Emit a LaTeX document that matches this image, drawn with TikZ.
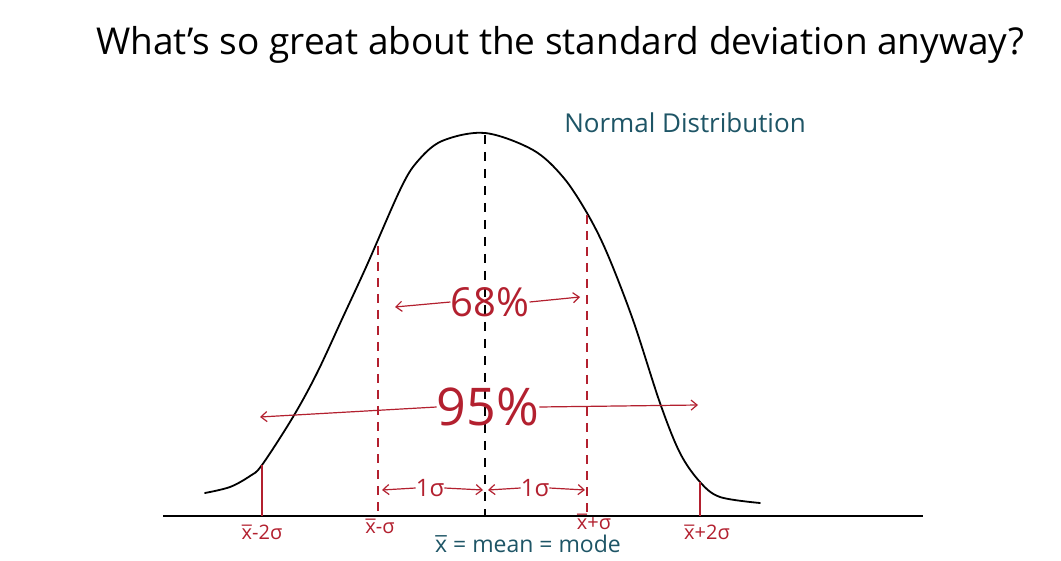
\documentclass[tikz,border=0pt]{standalone}
\usepackage{fontspec}
\setmainfont{Open Sans}
\usetikzlibrary{arrows.meta}
\definecolor{pen}{HTML}{B3202F}
\definecolor{tl}{HTML}{1E5566}
\newcommand{\xbr}{\ooalign{x\cr\hidewidth\raisebox{-0.08em}{¯}\hidewidth\cr}}
\begin{document}
\begin{tikzpicture}[x=1pt,y=-1pt,
  curve/.style={black,line width=1.8pt,line cap=round},
  rline/.style={pen,line width=1.2pt},
  rdash/.style={pen,line width=1.2pt,dash pattern=on 9pt off 7pt},
  ar/.style={-{Straight Barb[length=6pt,width=10pt]},pen,line width=1.2pt},
  lbl/.style={text=pen,inner sep=0pt},
  ttl/.style={inner sep=0pt,font=\fontsize{37}{42}\selectfont}]
\useasboundingbox[fill=white] (0,0) rectangle (1061,561);
% title
\node[ttl] (title) at (560,45) {What's so great about the standard deviation anyway?};
\node[text=tl,font=\fontsize{26}{30}\selectfont] (nd) at (685,123) {Normal Distribution};
% axis and bell curve
\coordinate (ax1) at (163,516);
\coordinate (ax2) at (923,516);
\draw[black,line width=1.5pt] (ax1) -- (ax2);
\draw[curve] plot[smooth,tension=0.55] coordinates {(205,493) (230,487) (250,476)
  (262,465) (293,417) (317,373) (343,317) (367,265) (400,190) (417,162)
  (442,141) (485,133) (533,150) (563,177) (587,213) (607,253)
  (633,320) (660,403) (680,453) (700,482) (720,497) (760,503)};
% verticals
\coordinate (mtop) at (485,135);
\coordinate (mbot) at (485,516);
\draw[black,line width=1.5pt,dash pattern=on 9pt off 8pt] (mtop) -- (mbot);
\coordinate (l1t) at (378,246); \coordinate (l1b) at (378,516);
\coordinate (r1t) at (587,215); \coordinate (r1b) at (587,516);
\coordinate (l2t) at (262,465); \coordinate (l2b) at (262,516);
\coordinate (r2t) at (700,482); \coordinate (r2b) at (700,516);
\draw[rdash] (l1t) -- (l1b);
\draw[rdash] (r1t) -- (r1b);
\draw[rline] (l2t) -- (l2b);
\draw[rline] (r2t) -- (r2b);
% 68 percent
\node[lbl,font=\fontsize{40}{44}\selectfont] (p68) at (490,302) {68\%};
\coordinate (a68l) at (395,307); \coordinate (a68r) at (580,297);
\draw[ar] (p68.west) -- (a68l);
\draw[ar] (p68.east) -- (a68r);
% 95 percent
\node[lbl,font=\fontsize{52}{56}\selectfont] (p95) at (488,407) {95\%};
\coordinate (a95l) at (260,417); \coordinate (a95r) at (698,405);
\draw[ar] (p95.west) -- (a95l);
\draw[ar] (p95.east) -- (a95r);
% one sigma
\node[lbl,font=\fontsize{24}{26}\selectfont] (s1l) at (430,488) {1σ};
\node[lbl,font=\fontsize{24}{26}\selectfont] (s1r) at (535,488) {1σ};
\coordinate (s1la) at (382,490); \coordinate (s1lb) at (483,490);
\coordinate (s1ra) at (488,490); \coordinate (s1rb) at (585,490);
\draw[ar] (s1l.west) -- (s1la);
\draw[ar] (s1l.east) -- (s1lb);
\draw[ar] (s1r.west) -- (s1ra);
\draw[ar] (s1r.east) -- (s1rb);
% labels under the axis
\node[lbl,font=\fontsize{20}{24}\selectfont] (m2) at (262,533) {\xbr-2σ};
\node[lbl,font=\fontsize{20}{24}\selectfont] (m1) at (380,529) {\xbr-σ};
\node[lbl,font=\fontsize{20}{24}\selectfont] (p1) at (594,524) {\xbr+σ};
\node[lbl,font=\fontsize{20}{24}\selectfont] (p2) at (707,533) {\xbr+2σ};
\node[text=tl,inner sep=0pt,font=\fontsize{23}{26}\selectfont] (mm) at (528,545) {\xbr{} = mean = mode};
\end{tikzpicture}
\end{document}
